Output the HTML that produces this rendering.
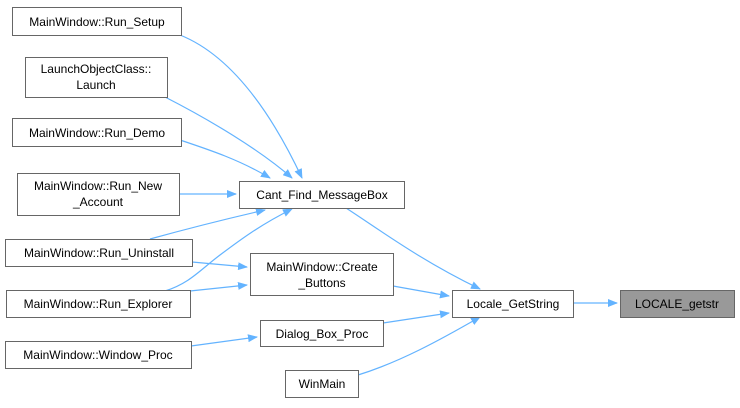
<!DOCTYPE html>
<html><head><meta charset="utf-8"><style>
html,body{margin:0;padding:0;background:#fff;}
svg text{font-family:"Liberation Sans",Arial,sans-serif;font-size:12px;fill:#000;}
</style></head><body>
<svg width="740" height="403" viewBox="0 0 740 403" xmlns="http://www.w3.org/2000/svg">
<defs><marker id="a" markerWidth="10" markerHeight="8" refX="9" refY="4" orient="auto" markerUnits="userSpaceOnUse"><path d="M0,0 L10,4 L0,8 z" fill="#63b3ff"/></marker></defs>
<g fill="none" stroke="#63b3ff" stroke-width="1.2" marker-end="url(#a)">
<path d="M180,35 C230,55 270,110 302,178"/>
<path d="M165,97 C210,120 260,150 292,178"/>
<path d="M180,140 C210,150 240,160 270,178"/>
<path d="M179,194 L236,194"/>
<path d="M150,239 C190,228 230,218 265,210"/>
<path d="M165,291 C190,283 200,270 220,255 C240,240 260,225 292,209"/>
<path d="M192,262 L247,267"/>
<path d="M190,291 L247,285"/>
<path d="M191,346 L257,337"/>
<path d="M346,208 C380,230 420,260 480,289"/>
<path d="M393,286 L449,296"/>
<path d="M383,323 L449,313"/>
<path d="M358,375 C400,362 440,340 480,317"/>
<path d="M573,303 L617,303"/>
</g>
<g stroke="#666" stroke-width="1" fill="#fff">
<rect x="12.5" y="7.5" width="169" height="28"/>
<rect x="25.5" y="57.5" width="142" height="40"/>
<rect x="12.5" y="118.5" width="169" height="28"/>
<rect x="17.5" y="173.5" width="162" height="42"/>
<rect x="5.5" y="239.5" width="187" height="27"/>
<rect x="6.5" y="290.5" width="184" height="27"/>
<rect x="5.5" y="341.5" width="186" height="27"/>
<rect x="239.5" y="181.5" width="165" height="27"/>
<rect x="250.5" y="253.5" width="143" height="42"/>
<rect x="260.5" y="320.5" width="123" height="26"/>
<rect x="285.5" y="370.5" width="73" height="27"/>
<rect x="452.5" y="290.5" width="121" height="27"/>
<rect x="620.5" y="290.5" width="114" height="27" fill="#999"/>
</g>
<g text-anchor="middle">
<text x="97" y="26">MainWindow::Run_Setup</text>
<text x="96" y="73">LaunchObjectClass::</text>
<text x="96" y="89">Launch</text>
<text x="97" y="137">MainWindow::Run_Demo</text>
<text x="98" y="190">MainWindow::Run_New</text>
<text x="98" y="206">_Account</text>
<text x="99" y="257">MainWindow::Run_Uninstall</text>
<text x="98" y="308">MainWindow::Run_Explorer</text>
<text x="98" y="359">MainWindow::Window_Proc</text>
<text x="322" y="199">Cant_Find_MessageBox</text>
<text x="322" y="271">MainWindow::Create</text>
<text x="322" y="287">_Buttons</text>
<text x="322" y="338">Dialog_Box_Proc</text>
<text x="322" y="388">WinMain</text>
<text x="513" y="308">Locale_GetString</text>
<text x="677" y="308">LOCALE_getstr</text>
</g>
</svg>
</body></html>
